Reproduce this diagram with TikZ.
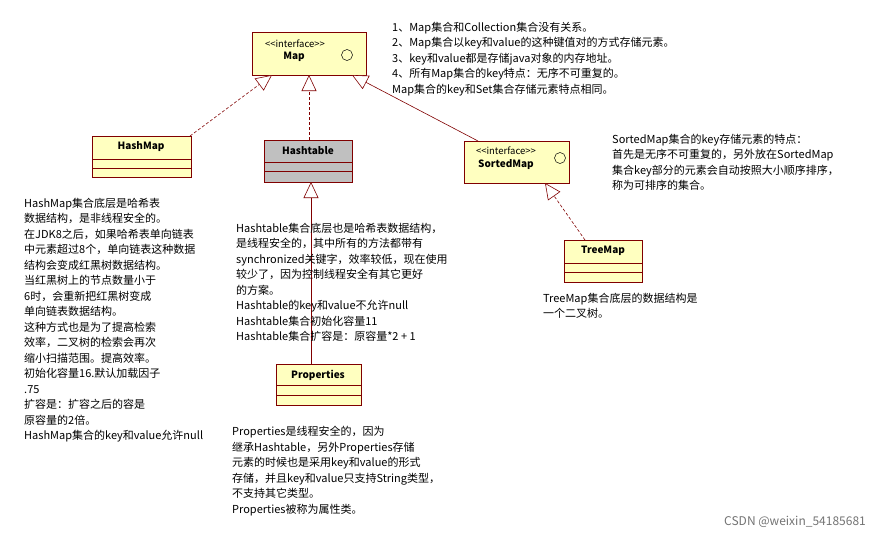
\documentclass[tikz,border=0pt]{standalone}
\usepackage{fontspec}
\setmainfont{Noto Sans CJK SC}
\usetikzlibrary{arrows.meta}
\definecolor{boxfill}{HTML}{FFFFC0}
\definecolor{boxline}{HTML}{800000}
\definecolor{grayfill}{HTML}{C0C0C0}
\tikzset{
 cls/.style={draw=boxline,line width=0.8pt},
 note/.style={anchor=north west,align=left,inner sep=0pt,font=\fontsize{11}{15.5}\selectfont},
 title/.style={font=\fontsize{10}{12}\selectfont\bfseries},
 stereo/.style={inner sep=0pt,font=\fontsize{9.5}{11}\selectfont},
 inh/.style={boxline,line width=0.6pt,-{Triangle[open,length=16pt,width=15pt,fill=white]}},
 inhd/.style={inh,dash pattern=on 3pt off 2pt},
}
\begin{document}
\begin{tikzpicture}[x=1pt,y=-1pt]
\useasboundingbox (0,0) rectangle (882,541);
% Map
\fill[boxfill] (252,32) rectangle (366,75);
\draw[cls] (252,32) rectangle (366,75);
\node[stereo] at (295,44) {<{}<interface>{}>};
\node[title] (maptitle) at (294,57) {Map};
\draw[black,line width=0.5pt] (347,55) circle (5.5);
\coordinate (map1) at (272,75);
\coordinate (map2) at (309,75);
\coordinate (map3) at (352,75);
% HashMap
\fill[boxfill] (92,136) rectangle (191,177);
\draw[cls] (92,136) rectangle (191,177) (92,159)--(191,159) (92,168)--(191,168);
\node[title] (hm) at (141,147) {HashMap};
\coordinate (hmtop) at (190,136);
% Hashtable
\fill[grayfill] (264,140) rectangle (352,182);
\draw[cls] (264,140) rectangle (352,182) (264,162)--(352,162) (264,171)--(352,171);
\node[title] (ht) at (308,151) {Hashtable};
\coordinate (httop) at (309,140);
\coordinate (htbot) at (311,182);
% SortedMap
\fill[boxfill] (464,141) rectangle (569,183);
\draw[cls] (464,141) rectangle (569,183);
\node[stereo] at (506,151) {<{}<interface>{}>};
\node[title] (sm) at (506,165) {SortedMap};
\draw[black,line width=0.5pt] (560,158) circle (5.5);
\coordinate (smtop) at (478,141);
\coordinate (smbot) at (545,183);
% TreeMap
\fill[boxfill] (564,240) rectangle (642,282);
\draw[cls] (564,240) rectangle (642,282) (564,263)--(642,263) (564,272)--(642,272);
\node[title] (tm) at (603,251) {TreeMap};
\coordinate (tmtop) at (585,240);
% Properties
\fill[boxfill] (276,364) rectangle (361,405);
\draw[cls] (276,364) rectangle (361,405) (276,385)--(361,385) (276,395)--(361,395);
\node[title] (pr) at (318,375) {Properties};
\coordinate (prtop) at (311,364);
% connectors
\draw[inhd] (hmtop) -- (map1);
\draw[inhd] (httop) -- (map2);
\draw[inh] (smtop) -- (map3);
\draw[inhd] (tmtop) -- (smbot);
\draw[inh] (prtop) -- (htbot);
% notes
\node[note] (n1) at (392,22) {1、Map集合和Collection集合没有关系。\\2、Map集合以key和value的这种键值对的方式存储元素。\\3、key和value都是存储java对象的内存地址。\\4、所有Map集合的key特点：无序不可重复的。\\Map集合的key和Set集合存储元素特点相同。};
\node[note] (n2) at (612,134) {SortedMap集合的key存储元素的特点：\\首先是无序不可重复的，另外放在SortedMap\\集合key部分的元素会自动按照大小顺序排序，\\称为可排序的集合。};
\node[note] (n3) at (24,198) {HashMap集合底层是哈希表\\数据结构，是非线程安全的。\\在JDK8之后，如果哈希表单向链表\\中元素超过8个，单向链表这种数据\\结构会变成红黑树数据结构。\\当红黑树上的节点数量小于\\6时，会重新把红黑树变成\\单向链表数据结构。\\这种方式也是为了提高检索\\效率，二叉树的检索会再次\\缩小扫描范围。提高效率。\\初始化容量16.默认加载因子\\.75\\扩容是：扩容之后的容是\\原容量的2倍。\\HashMap集合的key和value允许null};
\node[note] (n4) at (236,223) {Hashtable集合底层也是哈希表数据结构，\\是线程安全的，其中所有的方法都带有\\synchronized关键字，效率较低，现在使用\\较少了，因为控制线程安全有其它更好\\的方案。\\Hashtable的key和value不允许null\\Hashtable集合初始化容量11\\Hashtable集合扩容是：原容量*2 + 1};
\node[note] (n5) at (543,293) {TreeMap集合底层的数据结构是\\一个二叉树。};
\node[note] (n6) at (232,426) {Properties是线程安全的，因为\\继承Hashtable，另外Properties存储\\元素的时候也是采用key和value的形式\\存储，并且key和value只支持String类型，\\不支持其它类型。\\Properties被称为属性类。};
\node[anchor=east,inner sep=0pt,text=black!55,font=\fontsize{12}{14}\selectfont] (wm) at (866,522) {CSDN @weixin\_54185681};
\end{tikzpicture}
\end{document}
